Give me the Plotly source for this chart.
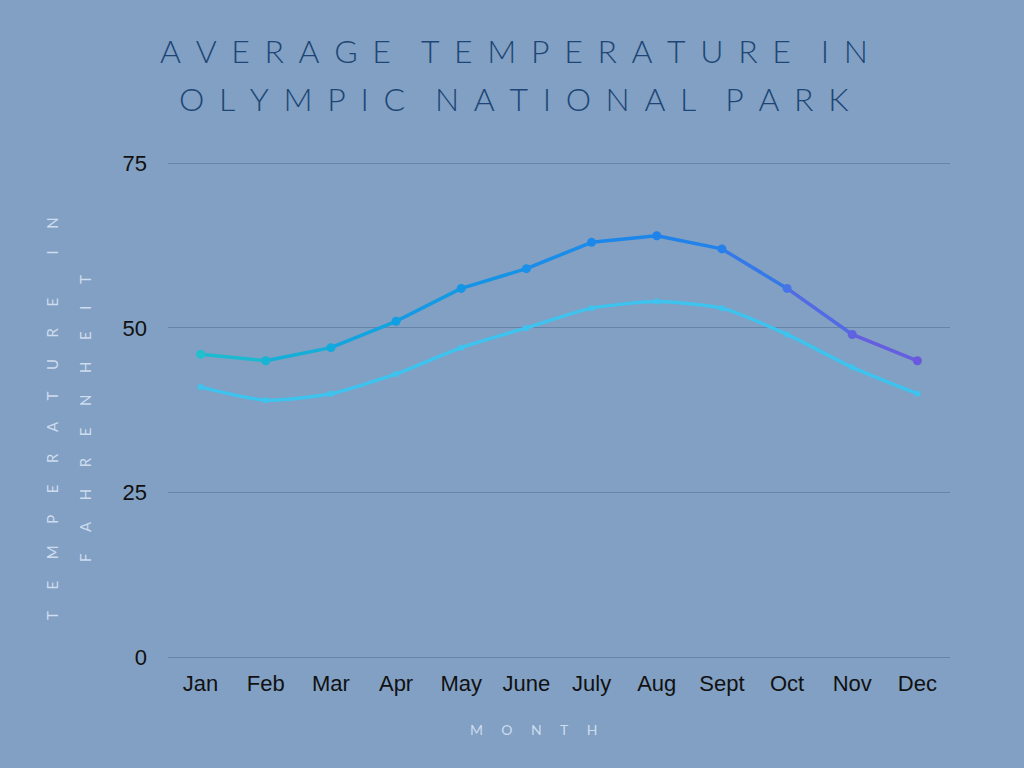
import plotly.graph_objects as go

months = ["Jan", "Feb", "Mar", "Apr", "May", "June", "July", "Aug", "Sept", "Oct", "Nov", "Dec"]
avg_high = [46, 45, 47, 51, 56, 59, 63, 64, 62, 56, 49, 45]
avg_low = [41, 39, 40, 43, 47, 50, 53, 54, 53, 49, 44, 40]
y_ticks = [0, 25, 50, 75]

title_lines = ["AVERAGE TEMPERATURE IN", "OLYMPIC NATIONAL PARK"]
y_title_lines = ["TEMPERATURE IN", "FAHRENHEIT"]
x_title = "MONTH"

# style: gradient colours along the upper line (teal -> blue -> purple)
high_colors = ["#22bfcc", "#18b4d4", "#12a9dc", "#109fe2", "#1496e6", "#1990e9",
               "#1c89ea", "#1e84eb", "#2580ea", "#4673e8", "#5f63e2", "#6a59de"]
low_color = "#3ec3ef"

BG = "#81a0c3"
W, H = 1024, 768
ML, MR, MT, MB = 168, 74, 162, 111
PW, PH = W - ML - MR, H - MT - MB


def px_x(x):
    return (x - ML) / PW


def px_y(y):
    return (H - MB - y) / PH


def spaced(text, sep, wsep):
    words = text.split(" ")
    return wsep.join(sep.join(list(w)) for w in words)


def mix(c1, c2):
    a = [int(c1[i:i + 2], 16) for i in (1, 3, 5)]
    b = [int(c2[i:i + 2], 16) for i in (1, 3, 5)]
    return "#" + "".join(f"{(x + y) // 2:02x}" for x, y in zip(a, b))


fig = go.Figure()

# lower series (smooth)
fig.add_trace(go.Scatter(
    x=months, y=avg_low, mode="lines+markers",
    line=dict(color=low_color, width=3.5, shape="spline", smoothing=0.6),
    marker=dict(color=low_color, size=6),
    showlegend=False, hoverinfo="x+y",
))

# upper series drawn as coloured segments for the gradient
for i in range(len(months) - 1):
    fig.add_trace(go.Scatter(
        x=months[i:i + 2], y=avg_high[i:i + 2], mode="lines",
        line=dict(color=mix(high_colors[i], high_colors[i + 1]), width=3.5),
        showlegend=False, hoverinfo="skip",
    ))
fig.add_trace(go.Scatter(
    x=months, y=avg_high, mode="markers",
    marker=dict(color=high_colors, size=9),
    showlegend=False, hoverinfo="x+y",
))

grid = "#6683a8"
fig.update_layout(
    width=W, height=H,
    paper_bgcolor=BG, plot_bgcolor=BG,
    margin=dict(l=ML, r=MR, t=MT, b=MB),
    font=dict(family="Liberation Sans, Arial, sans-serif", size=22, color="#111111"),
    xaxis=dict(
        type="category", range=[-0.5, 11.5], showgrid=False,
        showline=False, zeroline=False, ticks="",
        ticklabelstandoff=11, tickfont=dict(size=22, color="#111111"),
        fixedrange=True,
    ),
    yaxis=dict(
        range=[0, 75.2], tickvals=y_ticks, showgrid=True, gridcolor=grid, gridwidth=1,
        zeroline=True, zerolinecolor=grid, zerolinewidth=1, showline=False, ticks="",
        ticklabelstandoff=20, tickfont=dict(size=22, color="#111111"),
        fixedrange=True,
    ),
)

annotations = []
# title, two lines
for ypx, line in zip([50, 98], title_lines):
    annotations.append(dict(
        text=spaced(line, "\u2004\u200a\u200a", " \u2004\u2004"),
        xref="paper", yref="paper", x=px_x(514), y=px_y(ypx),
        xanchor="center", yanchor="middle", showarrow=False, align="center",
        font=dict(family="Lato, sans-serif", size=32, color="#1d4676", weight=300),
    ))
# y title (two rotated lines)
for xpx, line in zip([52, 85], y_title_lines):
    annotations.append(dict(
        text=spaced(line, "\u2003\u2002\u2009\u200a", "\u2003\u2002\u2003\u2002\u2009 "),
        xref="paper", yref="paper", x=px_x(xpx), y=px_y(419),
        xanchor="center", yanchor="middle", showarrow=False, textangle=-90,
        font=dict(family="Lato, sans-serif", size=15, color="#cddcef"),
    ))
# x title
annotations.append(dict(
    text=spaced(x_title, "\u2003\u2002\u200a", " "),
    xref="paper", yref="paper", x=px_x(533), y=px_y(729),
    xanchor="center", yanchor="middle", showarrow=False,
    font=dict(family="Lato, sans-serif", size=14, color="#cddcef"),
))
fig.update_layout(annotations=annotations)

fig.write_html(
    "out.html",
    config={"displayModeBar": False},
    post_script="document.body.style.margin='0';document.body.style.background='%s';" % BG,
)
